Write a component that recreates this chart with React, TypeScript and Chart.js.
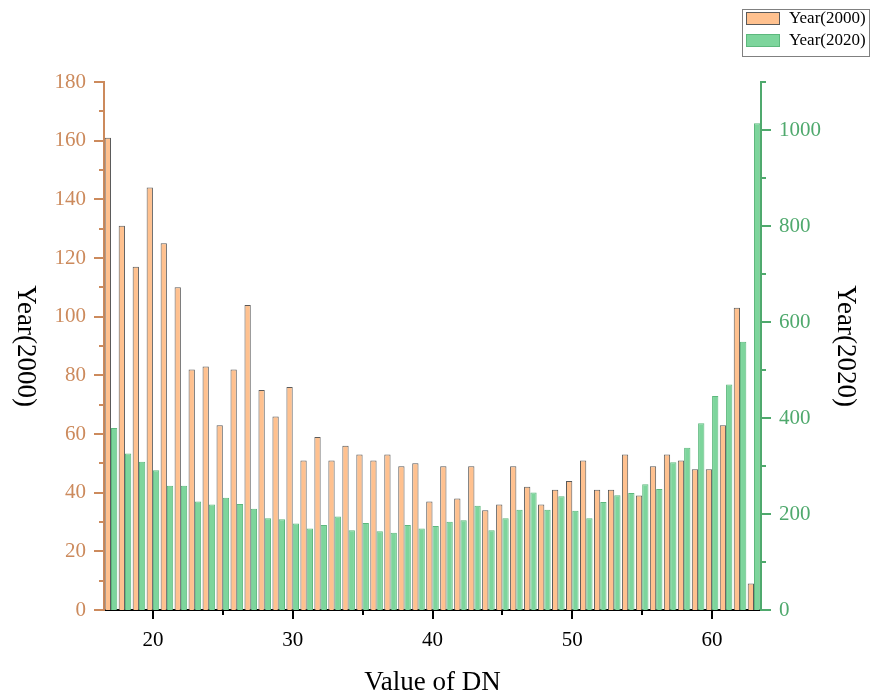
import React, { useEffect, useRef } from "react";
import { Chart, registerables } from "chart.js";

Chart.register(...registerables);

const dnValues = [17, 18, 19, 20, 21, 22, 23, 24, 25, 26, 27, 28, 29, 30, 31, 32, 33, 34, 35, 36, 37, 38, 39, 40, 41, 42, 43, 44, 45, 46, 47, 48, 49, 50, 51, 52, 53, 54, 55, 56, 57, 58, 59, 60, 61, 62, 63];
const year2000 = [161, 131, 117, 144, 125, 110, 82, 83, 63, 82, 104, 75, 66, 76, 51, 59, 51, 56, 53, 51, 53, 49, 50, 37, 49, 38, 49, 34, 36, 49, 42, 36, 41, 44, 51, 41, 41, 53, 39, 49, 53, 51, 48, 48, 63, 103, 9];
const year2020 = [379, 326, 309, 291, 259, 259, 226, 220, 234, 221, 211, 191, 189, 180, 170, 177, 195, 166, 181, 164, 161, 177, 170, 175, 184, 187, 217, 166, 191, 209, 245, 209, 237, 207, 191, 225, 239, 244, 262, 252, 308, 338, 389, 446, 470, 559, 1014];
const leftTickValues = [0, 10, 20, 30, 40, 50, 60, 70, 80, 90, 100, 110, 120, 130, 140, 150, 160, 170, 180];
const rightTickValues = [0, 100, 200, 300, 400, 500, 600, 700, 800, 900, 1000, 1100];
const xTickValues = [20, 25, 30, 35, 40, 45, 50, 55, 60];
const seriesLabels = ["Year(2000)", "Year(2020)"];
const xTitle = "Value of DN";

const FONT = "'Liberation Serif', 'Times New Roman', serif";
const LEFT_COLOR = "#CC8A5C";
const RIGHT_COLOR = "#4FA96D";
const ORANGE_FILL = "#FFC18F";
const ORANGE_BORDER = "#5A5A5A";
const GREEN_FILL = "#7DD59C";
const GREEN_BORDER = "#5DB87D";

const decorPlugin = {
  id: "decor",
  afterDraw(chart: any) {
    const { ctx, chartArea, scales } = chart;
    const yL = scales.yL;
    const yR = scales.yR;
    const x = scales.x;
    ctx.save();
    ctx.lineWidth = 2;
    ctx.strokeStyle = LEFT_COLOR;
    for (const v of leftTickValues) {
      const y = Math.round(yL.getPixelForValue(v));
      const len = v % 20 === 0 ? 10 : 5;
      ctx.beginPath();
      ctx.moveTo(chartArea.left, y);
      ctx.lineTo(chartArea.left - len, y);
      ctx.stroke();
    }
    ctx.strokeStyle = RIGHT_COLOR;
    for (const v of rightTickValues) {
      const y = Math.round(yR.getPixelForValue(v));
      const len = v % 200 === 0 ? 10 : 5;
      ctx.beginPath();
      ctx.moveTo(chartArea.right, y);
      ctx.lineTo(chartArea.right + len, y);
      ctx.stroke();
    }
    ctx.strokeStyle = "#000";
    for (const v of xTickValues) {
      const idx = dnValues.indexOf(v);
      const px = Math.round(x.getPixelForValue(idx));
      const len = v % 10 === 0 ? 9 : 5;
      ctx.beginPath();
      ctx.moveTo(px, chartArea.bottom);
      ctx.lineTo(px, chartArea.bottom + len);
      ctx.stroke();
    }
    ctx.fillStyle = "#000";
    ctx.font = `27px ${FONT}`;
    ctx.textAlign = "center";
    ctx.textBaseline = "middle";
    const midY = (chartArea.top + chartArea.bottom) / 2;
    ctx.save();
    ctx.translate(25, midY);
    ctx.rotate(Math.PI / 2);
    ctx.fillText(seriesLabels[0], 0, 0);
    ctx.restore();
    ctx.save();
    ctx.translate(845, midY);
    ctx.rotate(Math.PI / 2);
    ctx.fillText(seriesLabels[1], 0, 0);
    ctx.restore();
    ctx.fillText(xTitle, (chartArea.left + chartArea.right) / 2, 683);

    ctx.lineWidth = 1;
    ctx.strokeStyle = "#808080";
    ctx.strokeRect(742.5, 9.5, 127, 47);
    const ds = chart.data.datasets;
    ctx.font = `17px ${FONT}`;
    ctx.textAlign = "left";
    ds.forEach((d: any, i: number) => {
      const top = 12 + i * 22;
      ctx.fillStyle = d.backgroundColor;
      ctx.fillRect(746, top, 34, 13);
      ctx.strokeStyle = d.borderColor;
      ctx.strokeRect(746.5, top + 0.5, 33, 12);
      ctx.fillStyle = "#000";
      ctx.fillText(d.label, 789, top + 7);
    });
    ctx.restore();
  },
};

export default function App() {
  const ref = useRef<HTMLCanvasElement>(null);
  useEffect(() => {
    document.body.style.margin = "0";
    const canvas = ref.current!;
    const chart = new Chart(canvas, {
      type: "bar",
      data: {
        labels: dnValues.map(String),
        datasets: [
          {
            label: seriesLabels[0],
            data: year2000,
            yAxisID: "yL",
            backgroundColor: ORANGE_FILL,
            borderColor: ORANGE_BORDER,
            borderWidth: 1,
            categoryPercentage: 0.9,
            barPercentage: 1.0,
          },
          {
            label: seriesLabels[1],
            data: year2020,
            yAxisID: "yR",
            backgroundColor: GREEN_FILL,
            borderColor: GREEN_BORDER,
            borderWidth: 1,
            categoryPercentage: 0.9,
            barPercentage: 1.0,
          },
        ],
      },
      options: {
        responsive: false,
        animation: false,
        layout: { padding: { top: 82, left: 0, right: 0, bottom: 0 } },
        plugins: { legend: { display: false }, tooltip: { enabled: false } },
        scales: {
          x: {
            type: "category",
            offset: true,
            grid: { display: false, drawTicks: false },
            border: { display: true, color: "#000", width: 2 },
            ticks: {
              autoSkip: false,
              maxRotation: 0,
              minRotation: 0,
              padding: 18,
              color: "#000",
              font: { family: FONT, size: 21 },
              callback: (_v: any, i: number) => (dnValues[i] % 10 === 0 ? String(dnValues[i]) : ""),
            },
            afterFit: (s: any) => {
              s.height = 89;
            },
          },
          yL: {
            type: "linear",
            position: "left",
            min: 0,
            max: 180,
            grid: { display: false, drawTicks: false },
            border: { display: true, color: LEFT_COLOR, width: 2 },
            ticks: {
              stepSize: 20,
              padding: 18,
              color: LEFT_COLOR,
              font: { family: FONT, size: 21 },
              callback: (v: any) => String(v),
            },
            afterFit: (s: any) => {
              s.width = 104;
            },
          },
          yR: {
            type: "linear",
            position: "right",
            min: 0,
            max: 1100,
            grid: { display: false, drawTicks: false },
            border: { display: true, color: RIGHT_COLOR, width: 2 },
            ticks: {
              stepSize: 200,
              includeBounds: false,
              padding: 18,
              color: RIGHT_COLOR,
              font: { family: FONT, size: 21 },
              callback: (v: any) => String(v),
            },
            afterFit: (s: any) => {
              s.width = 110;
            },
          },
        },
      },
      plugins: [decorPlugin],
    });
    return () => chart.destroy();
  }, []);
  return (
    <div style={{ width: 871, height: 699 }}>
      <canvas ref={ref} width={871} height={699} />
    </div>
  );
}
